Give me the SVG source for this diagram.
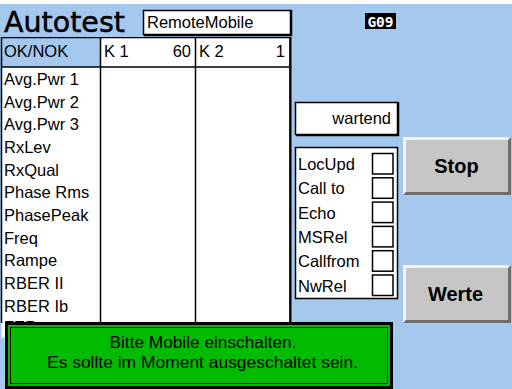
<svg xmlns="http://www.w3.org/2000/svg" width="512" height="389" viewBox="0 0 512 389">
  <defs>
    <style>
      .lbl { font-family: "Liberation Sans", Arial, sans-serif; font-size: 16.5px; fill: #000; }
      .frame { fill: #fff; stroke: #000; stroke-width: 1.5; }
      .line { stroke: #000; stroke-width: 1.5; fill: none; }
      .btn-face { fill: #c6c6c6; }
      .btn-hi { fill: #f4f4f4; }
      .btn-lo { fill: #6e6e6e; }
      .btn-txt { font-family: "Liberation Sans", Arial, sans-serif; font-size: 20px; font-weight: bold; fill: #000; text-anchor: middle; }
      .chk { fill: #fff; stroke: #000; stroke-width: 1.5; }
    </style>
    <clipPath id="tableClip">
      <rect x="0" y="37" width="292" height="286"/>
    </clipPath>
  </defs>

  <!-- screen background -->
  <rect x="0" y="0" width="512" height="389" fill="#ffffff"/>
  <rect x="0" y="4" width="512" height="385" fill="#a5c8ee"/>

  <!-- title bar -->
  <g id="title">
    <text x="4" y="32" font-family="DejaVu Sans, Verdana, sans-serif" font-size="28.5px" fill="#000" stroke="#000" stroke-width="0.5">Autotest</text>
  </g>
  <g id="mode-field">
    <rect x="143.5" y="10.5" width="147" height="24" class="frame"/>
    <path d="M144 35.5 H291.5 V10" class="line"/>
    <text x="147" y="28" class="lbl">RemoteMobile</text>
  </g>
  <g id="status-code">
    <rect x="365" y="13" width="31" height="16" fill="#000"/>
    <text x="380.5" y="26.5" font-family="DejaVu Sans Mono, monospace" font-size="14.5px" font-weight="bold" fill="#fff" text-anchor="middle">G09</text>
  </g>

  <!-- result table -->
  <g id="result-table">
    <rect x="1.5" y="37.5" width="288.5" height="300" fill="#fff"/>
    <rect x="1.5" y="37.5" width="99" height="29.5" fill="#a5c8ee"/>
    <g clip-path="url(#tableClip)">
      <path d="M1.5 338 V37.5 H290 V338" class="line"/>
      <path d="M290.5 37 V338" stroke="#000" stroke-width="2" fill="none"/>
      <path d="M1.5 67 H290" class="line"/>
      <path d="M100.5 37.5 V338 M195.5 37.5 V338" class="line"/>
      <text x="4" y="57" class="lbl">OK/NOK</text>
      <text x="104" y="57" class="lbl">K 1</text>
      <text x="191" y="57" class="lbl" text-anchor="end">60</text>
      <text x="199" y="57" class="lbl">K 2</text>
      <text x="285" y="57" class="lbl" text-anchor="end">1</text>
      <text x="4" y="85" class="lbl">Avg.Pwr 1</text>
      <text x="4" y="107.7" class="lbl">Avg.Pwr 2</text>
      <text x="4" y="130.3" class="lbl">Avg.Pwr 3</text>
      <text x="4" y="153" class="lbl">RxLev</text>
      <text x="4" y="175.6" class="lbl">RxQual</text>
      <text x="4" y="198.3" class="lbl">Phase Rms</text>
      <text x="4" y="221" class="lbl">PhasePeak</text>
      <text x="4" y="243.6" class="lbl">Freq</text>
      <text x="4" y="266.3" class="lbl">Rampe</text>
      <text x="4" y="289" class="lbl">RBER II</text>
      <text x="4" y="311.6" class="lbl">RBER Ib</text>
      <text x="4" y="332.5" class="lbl">FER</text>
    </g>
  </g>

  <!-- state field -->
  <g id="state-field">
    <rect x="295.5" y="102.5" width="102" height="32" class="frame"/>
    <path d="M296 135.5 H398.5 V102" class="line"/>
    <text x="391" y="123.5" class="lbl" text-anchor="end">wartend</text>
  </g>

  <!-- signalling steps -->
  <g id="step-panel">
    <rect x="295.5" y="147.5" width="102" height="151" class="frame"/>
    <text x="298" y="170" class="lbl">LocUpd</text>
    <text x="298" y="194.3" class="lbl">Call to</text>
    <text x="298" y="218.6" class="lbl">Echo</text>
    <text x="298" y="242.9" class="lbl">MSRel</text>
    <text x="298" y="267.2" class="lbl">Callfrom</text>
    <text x="298" y="291.5" class="lbl">NwRel</text>
    <rect x="372.5" y="153.5" width="20.5" height="20.5" class="chk"/>
    <rect x="372.5" y="177.8" width="20.5" height="20.5" class="chk"/>
    <rect x="372.5" y="202.1" width="20.5" height="20.5" class="chk"/>
    <rect x="372.5" y="226.4" width="20.5" height="20.5" class="chk"/>
    <rect x="372.5" y="250.7" width="20.5" height="20.5" class="chk"/>
    <rect x="372.5" y="275" width="20.5" height="20.5" class="chk"/>
  </g>

  <!-- buttons -->
  <g id="btn-stop">
    <rect x="403" y="137" width="108" height="58" class="btn-face"/>
    <polygon points="403,137 511,137 508,140 406,140 406,192 403,195" class="btn-hi"/>
    <polygon points="511,137 511,195 403,195 406,192 508,192 508,140" class="btn-lo"/>
    <text x="456.5" y="173" class="btn-txt">Stop</text>
  </g>
  <g id="btn-werte">
    <rect x="403" y="265" width="108" height="58" class="btn-face"/>
    <polygon points="403,265 511,265 508,268 406,268 406,320 403,323" class="btn-hi"/>
    <polygon points="511,265 511,323 403,323 406,320 508,320 508,268" class="btn-lo"/>
    <text x="455.5" y="301" class="btn-txt">Werte</text>
  </g>

  <!-- message box -->
  <g id="message">
    <rect x="5" y="322" width="388" height="67" fill="#00bb00"/>
    <rect x="6.5" y="323.5" width="385" height="64" fill="none" stroke="#000" stroke-width="3"/>
    <rect x="10.5" y="327.5" width="377" height="56" fill="none" stroke="#000" stroke-width="1"/>
    <text x="203" y="347.5" class="lbl" text-anchor="middle" textLength="187" lengthAdjust="spacingAndGlyphs">Bitte Mobile einschalten.</text>
    <text x="202.5" y="368" class="lbl" text-anchor="middle" textLength="311" lengthAdjust="spacingAndGlyphs">Es sollte im Moment ausgeschaltet sein.</text>
  </g>
</svg>
